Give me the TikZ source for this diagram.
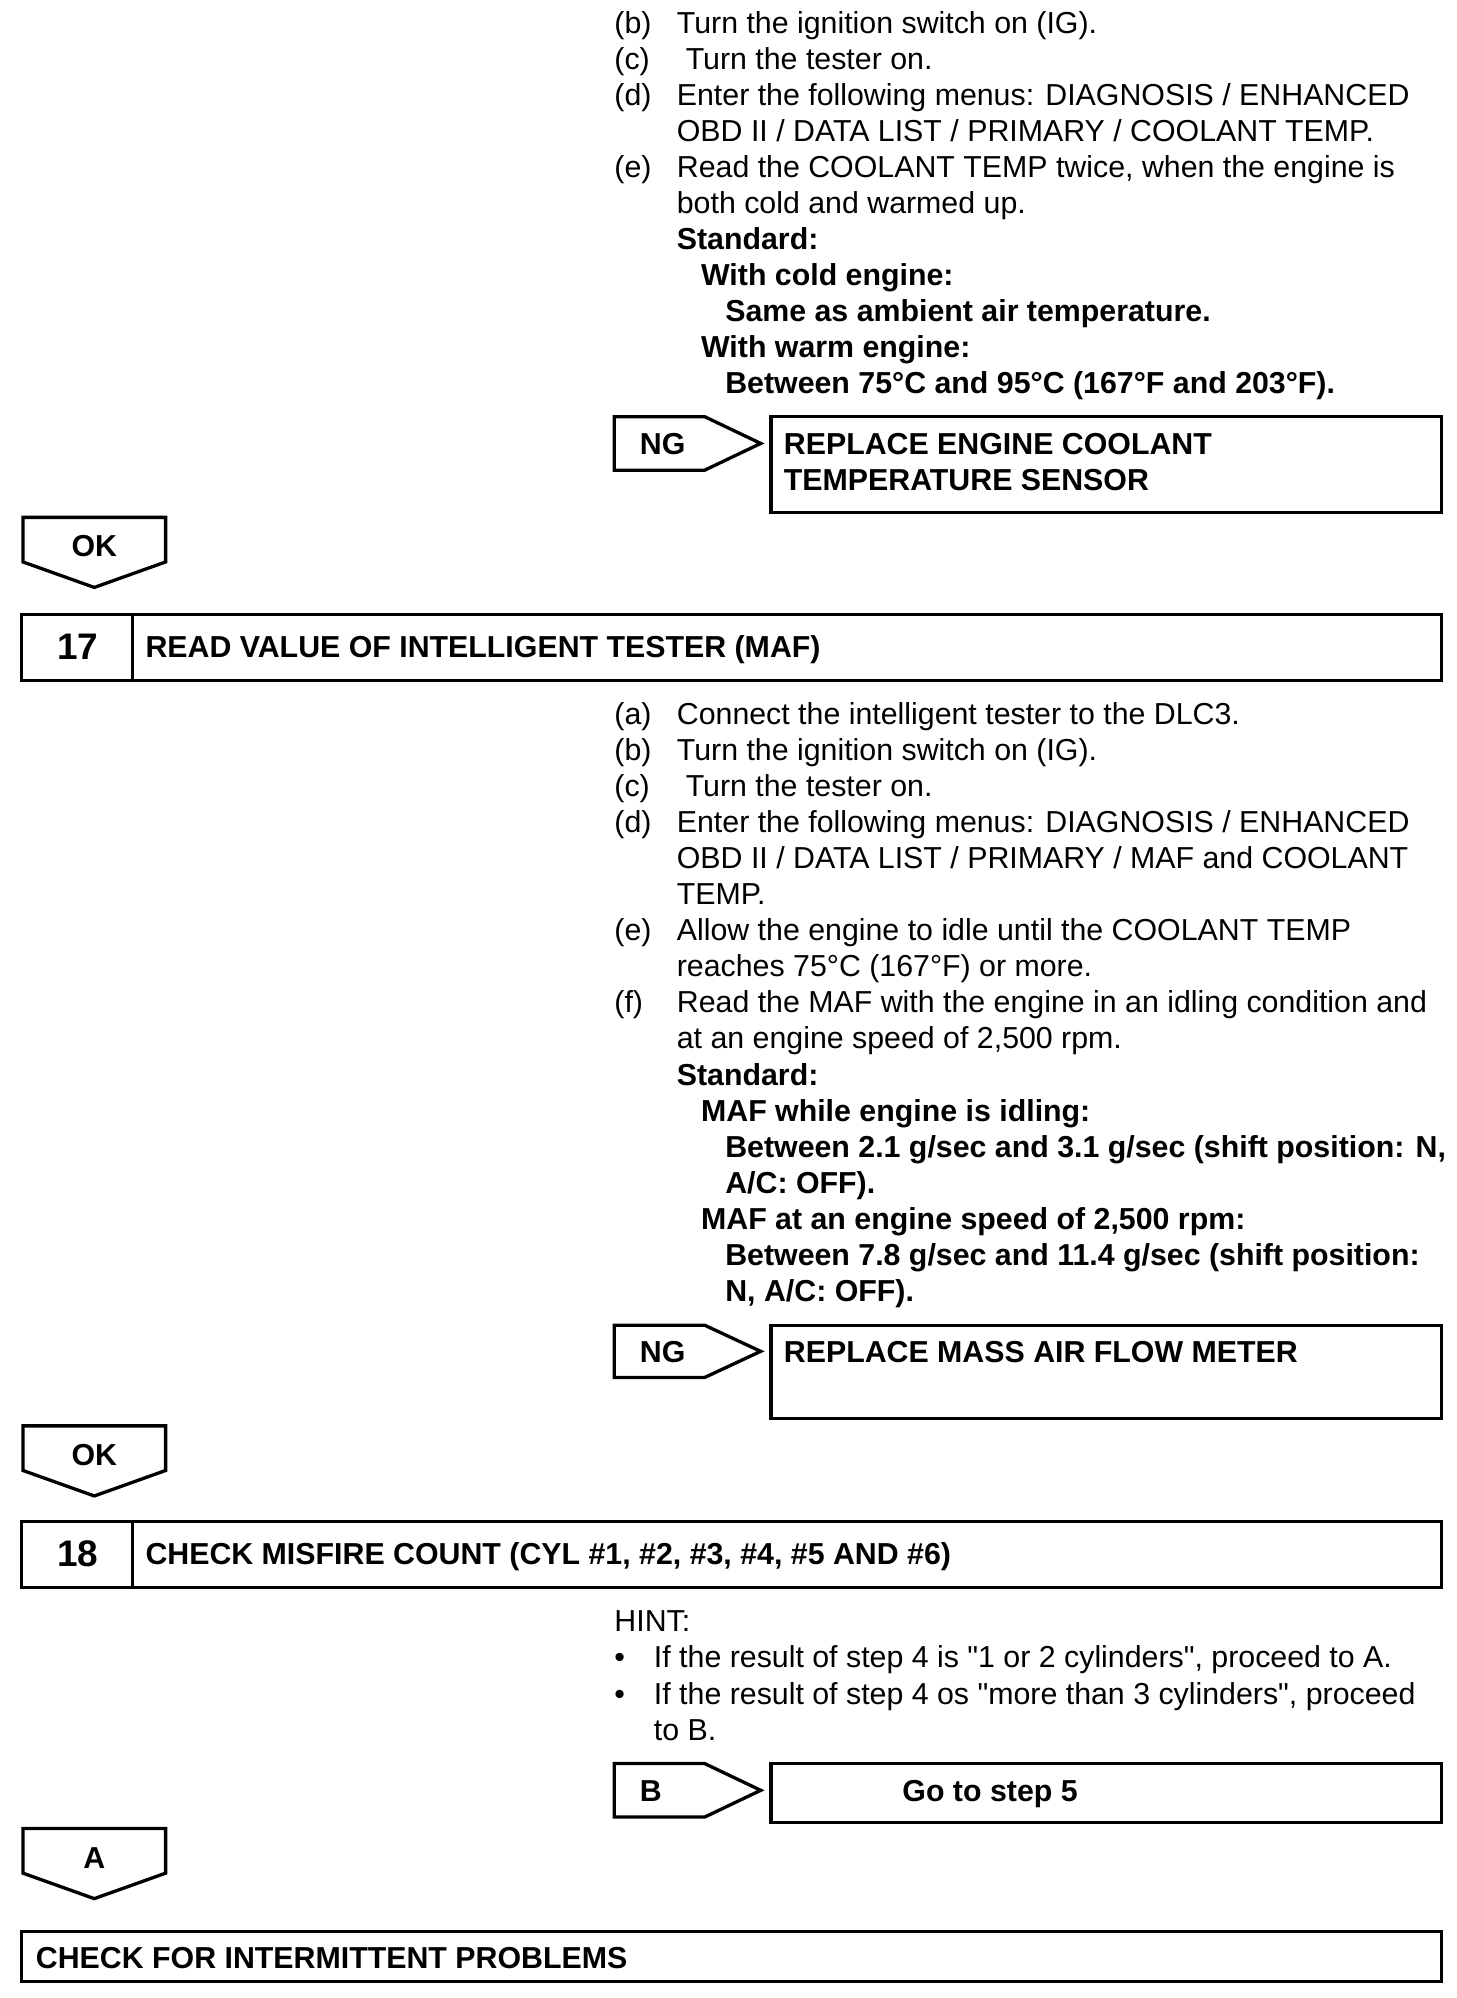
\documentclass[tikz,border=0pt]{standalone}
\usepackage{fontspec}
\setmainfont{Liberation Sans}[Ligatures=TeXOff]
\newcommand\bodyfont{\fontsize{23.8}{28.3}\selectfont}
\newcommand\numfont{\fontsize{29}{32}\selectfont\bfseries}
\tikzset{
  txt/.style={inner sep=0pt, anchor=base west, font=\bodyfont},
  btxt/.style={inner sep=0pt, anchor=base west, font=\bodyfont\bfseries},
  num/.style={inner sep=0pt, anchor=base, font=\numfont},
  box/.style={draw=black, line width=2.6pt, line join=miter},
}
\newcommand\ngtag[4]{% name, top, bottom, text
  \draw[box] (482,#2) -- (553,#2) -- (597,{(#2+#3)/2}) -- (553,#3) -- (482,#3) -- cycle;
  \node[btxt] (#1) at (502,{(#2+#3)/2+8.5}) {#4};}
\newcommand\oktag[3]{% name, top, text
  \draw[box] (18,#2) -- (130,#2) -- (130,#2+35) -- (74,#2+55) -- (18,#2+35) -- cycle;
  \node[btxt, anchor=base] (#1) at (74,#2+31) {#3};}
\begin{document}
\begin{tikzpicture}[x=1pt,y=-1pt]
\useasboundingbox (0,0) rectangle (1143,1568);
\fill[white] (0,0) rectangle (1143,1568);
% ---- top block ----
\node[txt] (t1l) at (482,26) {(b)};
\node[txt] (t1) at (531,26) {Turn the ignition switch on (IG).};
\node[txt] (t2l) at (482,54.3) {(c)};
\node[txt] (t2) at (538,54.3) {Turn the tester on.};
\node[txt] (t3l) at (482,82.6) {(d)};
\node[txt] (t3) at (531,82.6) {Enter the following menus: DIAGNOSIS / ENHANCED};
\node[txt] (t4) at (531,110.9) {OBD II / DATA LIST / PRIMARY / COOLANT TEMP.};
\node[txt] (t5l) at (482,139.2) {(e)};
\node[txt] (t5) at (531,139.2) {Read the COOLANT TEMP twice, when the engine is};
\node[txt] (t6) at (531,167.5) {both cold and warmed up.};
\node[btxt] (t7) at (531,195.8) {Standard:};
\node[btxt] (t8) at (550,224.1) {With cold engine:};
\node[btxt] (t9) at (569,252.4) {Same as ambient air temperature.};
\node[btxt] (t10) at (550,280.7) {With warm engine:};
\node[btxt] (t11) at (569,309) {Between 75°C and 95°C (167°F and 203°F).};
\ngtag{ng1}{327}{369}{NG}
\draw[box] (605,327) rectangle (1131,402);
\node[btxt] (r1a) at (615,356.5) {REPLACE ENGINE COOLANT};
\node[btxt] (r1b) at (615,385) {TEMPERATURE SENSOR};
\oktag{ok1}{406}{OK}
% ---- step 17 ----
\draw[box] (17,482) rectangle (1131,534);
\draw[box] (104,482) -- (104,534);
\node[num] (s17) at (61,517.5) {17};
\node[btxt] (s17t) at (114,516) {READ VALUE OF INTELLIGENT TESTER (MAF)};
\node[txt] (a1l) at (482,568.5) {(a)};
\node[txt] (a1) at (531,568.5) {Connect the intelligent tester to the DLC3.};
\node[txt] (a2l) at (482,596.8) {(b)};
\node[txt] (a2) at (531,596.8) {Turn the ignition switch on (IG).};
\node[txt] (a3l) at (482,625.1) {(c)};
\node[txt] (a3) at (538,625.1) {Turn the tester on.};
\node[txt] (a4l) at (482,653.4) {(d)};
\node[txt] (a4) at (531,653.4) {Enter the following menus: DIAGNOSIS / ENHANCED};
\node[txt] (a5) at (531,681.7) {OBD II / DATA LIST / PRIMARY / MAF and COOLANT};
\node[txt] (a6) at (531,710) {TEMP.};
\node[txt] (a7l) at (482,738.3) {(e)};
\node[txt] (a7) at (531,738.3) {Allow the engine to idle until the COOLANT TEMP};
\node[txt] (a8) at (531,766.6) {reaches 75°C (167°F) or more.};
\node[txt] (a9l) at (482,794.9) {(f)};
\node[txt] (a9) at (531,794.9) {Read the MAF with the engine in an idling condition and};
\node[txt] (a10) at (531,823.2) {at an engine speed of 2,500 rpm.};
\node[btxt] (a11) at (531,851.5) {Standard:};
\node[btxt] (a12) at (550,879.8) {MAF while engine is idling:};
\node[btxt] (a13) at (569,908.1) {Between 2.1 g/sec and 3.1 g/sec (shift position: N,};
\node[btxt] (a14) at (569,936.4) {A/C: OFF).};
\node[btxt] (a15) at (550,964.7) {MAF at an engine speed of 2,500 rpm:};
\node[btxt] (a16) at (569,993) {Between 7.8 g/sec and 11.4 g/sec (shift position:};
\node[btxt] (a17) at (569,1021.3) {N, A/C: OFF).};
\ngtag{ng2}{1040}{1081}{NG}
\draw[box] (605,1040) rectangle (1131,1113);
\node[btxt] (r2) at (615,1069.5) {REPLACE MASS AIR FLOW METER};
\oktag{ok2}{1119}{OK}
% ---- step 18 ----
\draw[box] (17,1194) rectangle (1131,1246);
\draw[box] (104,1194) -- (104,1246);
\node[num] (s18) at (61,1229.5) {18};
\node[btxt] (s18t) at (114,1228) {CHECK MISFIRE COUNT (CYL \#1, \#2, \#3, \#4, \#5 AND \#6)};
\node[txt] (h0) at (482,1280.5) {HINT:};
\node[txt] (h1b) at (482,1309) {•};
\node[txt] (h1) at (513,1309) {If the result of step 4 is "1 or 2 cylinders", proceed to A.};
\node[txt] (h2b) at (482,1337.3) {•};
\node[txt] (h2) at (513,1337.3) {If the result of step 4 os "more than 3 cylinders", proceed};
\node[txt] (h3) at (513,1365.6) {to B.};
\ngtag{bt}{1384}{1426}{B}
\draw[box] (605,1384) rectangle (1131,1430);
\node[btxt, anchor=base] (go5) at (777,1413.5) {Go to step 5};
\oktag{at}{1435}{A}
\draw[box] (17,1516) rectangle (1131,1555);
\node[btxt] (fin) at (28,1544.5) {CHECK FOR INTERMITTENT PROBLEMS};
\end{tikzpicture}
\end{document}
